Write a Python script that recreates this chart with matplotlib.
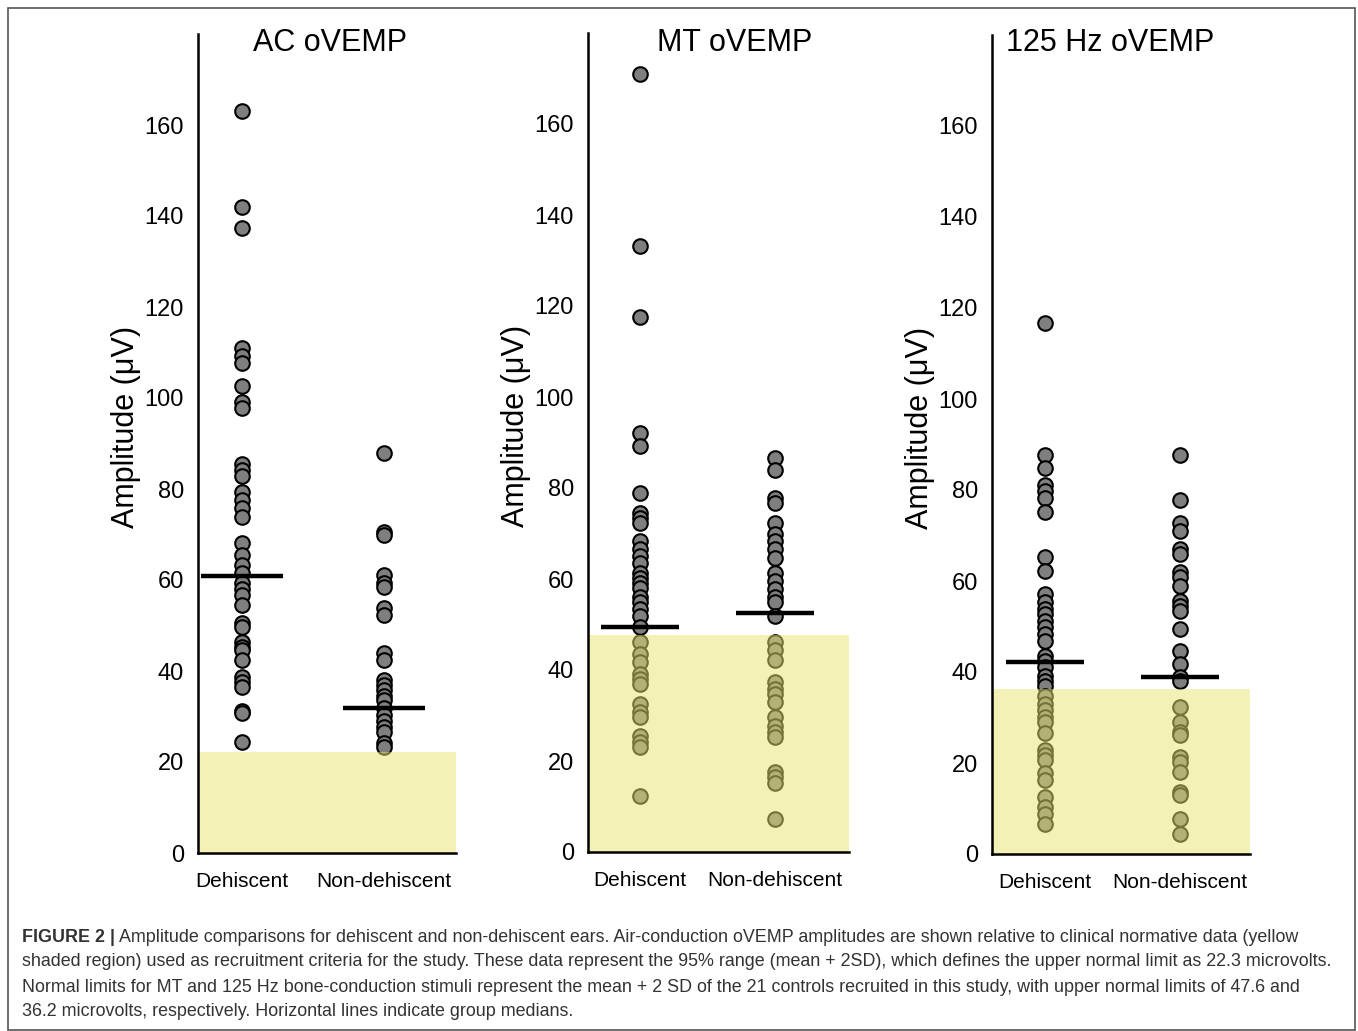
import matplotlib
matplotlib.use("Agg")
import matplotlib.pyplot as plt
from matplotlib.patches import Rectangle

plt.rcParams['font.family'] = ['Liberation Sans', 'DejaVu Sans']

GROUPS = ['Dehiscent', 'Non-dehiscent']
PANEL_TITLES = ['AC oVEMP', 'MT oVEMP', '125 Hz oVEMP']
NORMAL_LIMITS = [22.3, 47.6, 36.2]   # upper normal limit (shaded region)

# amplitudes (microvolts)
ac_dehiscent = [163.0, 142.0, 137.4, 110.9, 109.2, 107.6, 102.7, 99.2, 97.7, 85.6,
                84.2, 82.9, 79.4, 77.6, 75.8, 73.8, 68.1, 65.5, 63.3, 61.5, 59.3,
                58.0, 56.7, 54.4, 50.5, 49.7, 46.4, 45.2, 44.6, 42.4, 38.7, 37.5,
                36.5, 31.2, 30.7, 24.5]
ac_non_dehiscent = [88.0, 70.6, 69.9, 61.1, 59.3, 58.5, 53.8, 52.3, 43.9, 42.4, 38.0,
                    36.9, 35.8, 34.5, 33.6, 31.8, 30.3, 29.0, 27.8, 26.7, 24.1, 23.2]
mt_dehiscent = [171.0, 133.2, 117.5, 92.1, 89.2, 79.0, 74.6, 73.5, 72.4, 68.4, 66.6,
                65.1, 63.6, 61.4, 60.3, 59.2, 58.1, 56.0, 54.9, 53.4, 51.9, 49.4,
                46.1, 43.5, 41.7, 39.2, 38.1, 37.0, 32.6, 30.8, 29.7, 25.6, 24.2,
                23.1, 12.3]
mt_non_dehiscent = [86.5, 84.0, 77.9, 76.8, 72.4, 69.8, 68.4, 66.6, 64.7, 61.4, 59.6,
                    57.8, 56.0, 54.9, 51.9, 46.1, 44.3, 42.2, 37.3, 35.9, 34.8, 32.9,
                    29.7, 27.8, 26.4, 25.3, 17.6, 16.5, 15.1, 7.2]
hz125_dehiscent = [116.8, 87.7, 84.9, 81.2, 79.8, 78.3, 75.2, 65.2, 62.1, 57.1, 55.3,
                   53.8, 52.8, 51.3, 49.8, 48.4, 46.9, 43.6, 42.5, 41.1, 39.2, 38.1,
                   37.0, 34.8, 33.0, 31.6, 30.1, 29.0, 26.5, 22.8, 21.7, 20.6, 17.7,
                   16.2, 12.6, 10.4, 8.9, 6.7]
hz125_non_dehiscent = [87.8, 77.7, 72.8, 71.0, 67.0, 65.9, 61.9, 60.8, 59.0, 55.7,
                       54.6, 53.5, 49.5, 44.7, 41.8, 38.9, 38.1, 32.3, 29.0, 26.8,
                       26.1, 21.3, 20.2, 18.0, 13.6, 12.9, 7.8, 4.5]

# group medians (horizontal bars)
medians_ac = [60.9, 31.9]
medians_mt = [49.5, 52.6]
medians_125 = [42.1, 39.0]

panels = [
    (ac_dehiscent, ac_non_dehiscent, medians_ac),
    (mt_dehiscent, mt_non_dehiscent, medians_mt),
    (hz125_dehiscent, hz125_non_dehiscent, medians_125),
]

W, H = 1358, 1031
fig = plt.figure(figsize=(W / 100, H / 100), dpi=100)

# axes boxes in pixels: left, right, bottom(y of zero)
boxes = [(198, 456, 853), (588, 849, 852), (992, 1250, 854)]
xlims = [(-0.31, 1.507), (-0.385, 1.548), (-0.393, 1.519)]
title_x = [330, 735, 1110]

for i, (dehis, nondehis, meds) in enumerate(panels):
    left, right, y0 = boxes[i]
    top = y0 - 180 * 4.55
    ax = fig.add_axes([left / W, (H - y0) / H, (right - left) / W, (y0 - top) / H])
    ax.set_xlim(*xlims[i])
    ax.set_ylim(0, 180)

    for xpos, vals in enumerate([dehis, nondehis]):
        ax.scatter([xpos] * len(vals), vals, s=110, facecolor='#7f7f7f',
                   edgecolor='black', linewidth=1.5, zorder=3, clip_on=False)
        ax.plot([xpos - 0.29, xpos + 0.29], [meds[xpos]] * 2, color='black',
                lw=3.2, solid_capstyle='butt', zorder=5)

    # normative region drawn over the dots
    ax.axhspan(0, NORMAL_LIMITS[i], facecolor='#e8e46c', alpha=0.5,
               edgecolor='none', zorder=4)

    for side in ['top', 'right']:
        ax.spines[side].set_visible(False)
    for side in ['left', 'bottom']:
        ax.spines[side].set_linewidth(1.8)
        ax.spines[side].set_zorder(6)

    ax.set_yticks(range(0, 161, 20))
    ax.tick_params(axis='y', length=0, pad=10, labelsize=17)
    ax.set_xticks([0, 1])
    ax.set_xticklabels(GROUPS)
    ax.tick_params(axis='x', length=0, pad=14, labelsize=15)
    ax.set_ylabel('Amplitude (\u03bcV)', fontsize=22)
    ax.yaxis.set_label_coords(-57 / (right - left), 0.52)

    fig.text(title_x[i] / W, 1 - 43 / H, PANEL_TITLES[i], fontsize=22,
             ha='center', va='center')

# outer frame
fig.patches.append(Rectangle((8 / W, 1 / H), (1355 - 8) / W, (1023 - 1) / H,
                             transform=fig.transFigure, fill=False,
                             edgecolor='#555555', lw=1.2))

caption_lines = [
    'Amplitude comparisons for dehiscent and non-dehiscent ears. Air-conduction oVEMP amplitudes are shown relative to clinical normative data (yellow',
    'shaded region) used as recruitment criteria for the study. These data represent the 95% range (mean + 2SD), which defines the upper normal limit as 22.3 microvolts.',
    'Normal limits for MT and 125 Hz bone-conduction stimuli represent the mean + 2 SD of the 21 controls recruited in this study, with upper normal limits of 47.6 and',
    '36.2 microvolts, respectively. Horizontal lines indicate group medians.',
]
cap_color = '#333333'
cap_size = 12.9
lead = fig.text(22 / W, 1 - 937 / H, 'FIGURE 2 |', fontsize=cap_size, fontweight='bold',
                color=cap_color, va='center', ha='left')
fig.canvas.draw()
bb = lead.get_window_extent(fig.canvas.get_renderer())
fig.text((bb.x1 + 4) / W, 1 - 937 / H, caption_lines[0], fontsize=cap_size,
         color=cap_color, va='center', ha='left')
for k, line in enumerate(caption_lines[1:]):
    fig.text(22 / W, 1 - (962 + 25 * k) / H, line, fontsize=cap_size,
             color=cap_color, va='center', ha='left')

fig.savefig('out.png', dpi=100)
